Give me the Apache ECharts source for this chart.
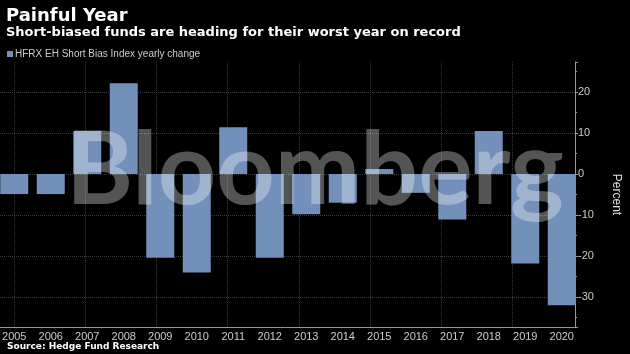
<!DOCTYPE html>
<html>
<head>
<meta charset="utf-8">
<script src="https://cdn.jsdelivr.net/npm/echarts@6/dist/echarts.min.js"></script>
<style>
html, body { margin: 0; padding: 0; background: #000; overflow: hidden; }
/* the plot starts a few px left of the page edge, so the canvas is nudged left */
#main { width: 634px; height: 354px; margin-left: -4px; }
</style>
</head>
<body>
<div id="main"></div>
<script>
// data
var years = ['2005', '2006', '2007', '2008', '2009', '2010', '2011', '2012',
             '2013', '2014', '2015', '2016', '2017', '2018', '2019', '2020'];
var yearlyChange = [-4.9, -4.9, 10.5, 22.1, -20.4, -24.0, 11.4, -20.4,
                    -9.8, -7.0, 1.2, -4.6, -11.1, 10.5, -21.8, -32.0];
var seriesName = 'HFRX EH Short Bias Index yearly change';
var yMin = -37.3, yMax = 27.3;

var myChart = echarts.init(document.getElementById('main'));

var option = {
    backgroundColor: '#000',
    animation: false,
    title: [{
        text: 'Painful Year',
        subtext: 'Short-biased funds are heading for their worst year on record',
        left: 5, top: 2,
        itemGap: 1,
        textStyle: { color: '#fff', fontFamily: 'DejaVu Sans', fontWeight: 'bold', fontSize: 18 },
        subtextStyle: { color: '#fff', fontFamily: 'DejaVu Sans', fontWeight: 'bold', fontSize: 13 }
    }, {
        text: 'Source: Hedge Fund Research',
        left: 6, bottom: -2,
        textStyle: { color: '#fff', fontFamily: 'DejaVu Sans', fontWeight: 'bold', fontSize: 9 }
    }],
    legend: {
        left: 6, top: 44,
        itemWidth: 6, itemHeight: 6, itemGap: 10,
        icon: 'rect',
        textStyle: { color: '#ccc', fontFamily: 'Liberation Sans', fontSize: 10, padding: [0, 0, 0, -3] },
        data: [seriesName]
    },
    grid: [
        { left: 0, right: 50, top: 62, bottom: 27 },
        { left: 0, right: 41, top: 62, bottom: 27 }
    ],
    xAxis: [{
        type: 'category',
        gridIndex: 0,
        data: years,
        axisLine: { show: false },
        axisTick: { show: false },
        axisLabel: { interval: 0, color: '#ccc', fontFamily: 'Liberation Sans', fontSize: 11, margin: 4 },
        splitLine: { show: false }
    }, {
        // year offset from 2005; only draws the bottom line and the two-year grid
        type: 'value',
        gridIndex: 1,
        min: -0.5, max: 15.747,
        splitNumber: 8,
        axisLine: { show: true, onZero: false, lineStyle: { color: '#999' } },
        axisTick: { show: false },
        axisLabel: { show: false },
        splitLine: { show: true, showMinLine: false, showMaxLine: false,
                     lineStyle: { color: '#3a3a3a', type: 'dotted' } }
    }],
    yAxis: [{
        type: 'value',
        gridIndex: 0,
        min: yMin, max: yMax,
        show: false
    }, {
        type: 'value',
        gridIndex: 1,
        position: 'right',
        min: yMin, max: yMax,
        name: 'Percent',
        nameLocation: 'middle',
        nameRotate: -90,
        nameGap: 35,
        nameTextStyle: { color: '#ddd', fontFamily: 'Liberation Sans', fontSize: 12 },
        axisLine: { show: true, onZero: false, lineStyle: { color: '#999' } },
        axisTick: { show: true, length: 3, lineStyle: { color: '#999' } },
        minorTick: { show: true, splitNumber: 2, length: 2, lineStyle: { color: '#999' } },
        axisLabel: { color: '#ccc', fontFamily: 'Liberation Sans', fontSize: 11, margin: 3,
                     showMinLabel: false, showMaxLabel: false },
        splitLine: { show: true, showMinLine: false, showMaxLine: false,
                     lineStyle: { color: '#3a3a3a', type: 'dotted' } }
    }],
    graphic: [{
        type: 'text',
        left: 70, top: 120, z: 100,
        silent: true,
        style: {
            text: 'Bloomberg',
            fontFamily: 'Lato', fontWeight: 'bold', fontSize: 102,
            fill: 'rgba(255,255,255,0.33)'
        }
    }],
    series: [{
        name: seriesName,
        type: 'bar',
        xAxisIndex: 0, yAxisIndex: 0,
        barWidth: 28,
        itemStyle: { color: '#7290ba' },
        data: yearlyChange
    }]
};

myChart.setOption(option);
</script>
</body>
</html>
